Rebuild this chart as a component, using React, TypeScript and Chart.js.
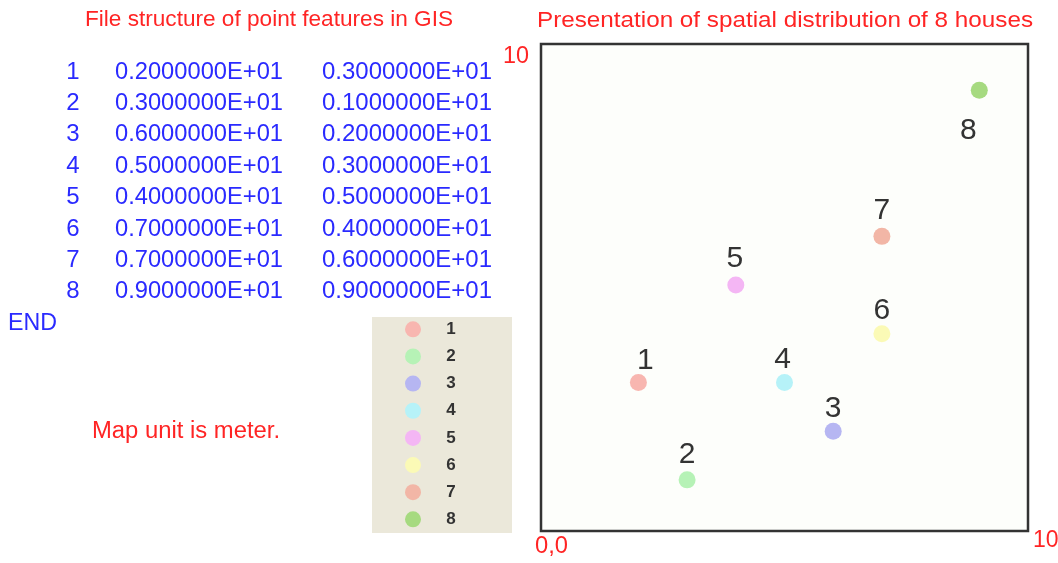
import React, { useEffect, useRef } from 'react';
import { Chart, registerables } from 'chart.js';

Chart.register(...registerables);

// ---- data ----
const houseIds = ['1', '2', '3', '4', '5', '6', '7', '8'];
const xValues = [2, 3, 6, 5, 4, 7, 7, 9];
const yValues = [3, 1, 2, 3, 5, 4, 6, 9];
const xCodes = ['0.2000000E+01', '0.3000000E+01', '0.6000000E+01', '0.5000000E+01', '0.4000000E+01', '0.7000000E+01', '0.7000000E+01', '0.9000000E+01'];
const yCodes = ['0.3000000E+01', '0.1000000E+01', '0.2000000E+01', '0.3000000E+01', '0.5000000E+01', '0.4000000E+01', '0.6000000E+01', '0.9000000E+01'];
const originLabel = '0,0';
const axisMaxLabel = '10';
const leftTitle = 'File structure of point features in GIS';
const rightTitle = 'Presentation of spatial distribution of 8 houses';
const endLabel = 'END';
const unitNote = 'Map unit is meter.';

// ---- styles ----
const pointColors = ['#f8b6b0', '#b6f2b6', '#b6b6f2', '#b6f2f8', '#f4b6f4', '#fbfab6', '#f2b6a6', '#a6da80'];
const labelOffsets: [number, number][] = [[7, -22], [0, -25], [0, -22], [-2, -23], [-1, -26], [0, -23], [0, -26], [-11, 40]];
const FONT = '"Liberation Sans", Arial, Helvetica, sans-serif';
const RED = '#ff2424';
const BLUE = '#2a2aff';

function fitText(
  ctx: CanvasRenderingContext2D,
  text: string,
  x: number,
  y: number,
  size: number,
  color: string,
  width?: number,
  align: 'left' | 'center' = 'left',
  weight = 'normal'
) {
  ctx.save();
  ctx.font = `${weight} ${size}px ${FONT}`;
  ctx.fillStyle = color;
  ctx.textBaseline = 'middle';
  ctx.textAlign = 'left';
  const w = ctx.measureText(text).width;
  const sx = width ? width / w : 1;
  const x0 = align === 'center' ? x - (w * sx) / 2 : x;
  ctx.translate(x0, y);
  ctx.scale(sx, 1);
  ctx.fillText(text, 0, 0);
  ctx.restore();
}

const decorPlugin = {
  id: 'gisDecor',
  beforeDraw(chart: any) {
    const ctx: CanvasRenderingContext2D = chart.ctx;
    const { left, right, top, bottom } = chart.chartArea;
    ctx.save();
    ctx.fillStyle = '#ffffff';
    ctx.fillRect(0, 0, chart.width, chart.height);
    // plot background
    ctx.fillStyle = '#fdfefb';
    ctx.fillRect(left, top, right - left, bottom - top);

    // titles
    fitText(ctx, leftTitle, 85, 20, 22, RED, 368);
    fitText(ctx, rightTitle, 537, 21, 22, RED, 496);

    // table
    const rowH = 31.4;
    houseIds.forEach((id, i) => {
      const y = 72 + i * rowH;
      fitText(ctx, id, 73, y, 24, BLUE, undefined, 'center');
      fitText(ctx, xCodes[i], 115, y, 24, BLUE, 168);
      fitText(ctx, yCodes[i], 322, y, 24, BLUE, 170);
    });
    fitText(ctx, endLabel, 8, 72 + 8 * rowH, 23, BLUE, 49);
    fitText(ctx, unitNote, 92, 432, 23, RED, 188);

    // legend box
    ctx.fillStyle = '#ebe8da';
    ctx.fillRect(372, 317, 140, 216);
    houseIds.forEach((id, i) => {
      const y = 329.3 + i * 27.15;
      ctx.beginPath();
      ctx.arc(413, y, 8, 0, Math.PI * 2);
      ctx.fillStyle = pointColors[i];
      ctx.fill();
      fitText(ctx, id, 451, y, 17, '#333333', undefined, 'center', 'bold');
    });

    // axis labels
    fitText(ctx, axisMaxLabel, 503, 56.5, 23, RED, 26);
    fitText(ctx, originLabel, 535, 547, 23, RED, 33);
    fitText(ctx, axisMaxLabel, 1033, 541, 23, RED);
    ctx.restore();
  },
  afterDatasetsDraw(chart: any) {
    const ctx: CanvasRenderingContext2D = chart.ctx;
    const { left, right, top, bottom } = chart.chartArea;
    ctx.save();
    ctx.strokeStyle = '#333333';
    ctx.lineWidth = 2.5;
    ctx.strokeRect(left, top, right - left, bottom - top);
    const meta = chart.getDatasetMeta(0);
    meta.data.forEach((pt: any, i: number) => {
      const [dx, dy] = labelOffsets[i];
      fitText(ctx, houseIds[i], pt.x + dx, pt.y + dy, 30, '#333333', undefined, 'center');
    });
    ctx.restore();
  },
};

export default function App() {
  const canvasRef = useRef<HTMLCanvasElement | null>(null);

  useEffect(() => {
    if (!canvasRef.current) return;
    const chart = new Chart(canvasRef.current, {
      type: 'scatter',
      data: {
        datasets: [
          {
            label: 'Houses',
            data: xValues.map((x, i) => ({ x, y: yValues[i] })),
            pointBackgroundColor: pointColors,
            pointBorderWidth: 0,
            pointBorderColor: pointColors,
            pointRadius: 8.5,
          },
        ],
      },
      options: {
        animation: false,
        responsive: false,
        devicePixelRatio: 1,
        layout: { padding: { left: 541, right: 30, top: 44, bottom: 32 } },
        scales: {
          x: { type: 'linear', min: 0, max: 10, display: false },
          y: { type: 'linear', min: -0.05, max: 9.95, display: false },
        },
        plugins: {
          legend: { display: false },
          tooltip: { enabled: false },
          title: { display: false },
        },
      },
      plugins: [decorPlugin],
    });
    return () => chart.destroy();
  }, []);

  return (
    <div style={{ position: 'fixed', left: 0, top: 0, width: 1058, height: 563, background: '#fff' }}>
      <canvas ref={canvasRef} width={1058} height={563} style={{ width: 1058, height: 563, display: 'block' }} />
    </div>
  );
}
